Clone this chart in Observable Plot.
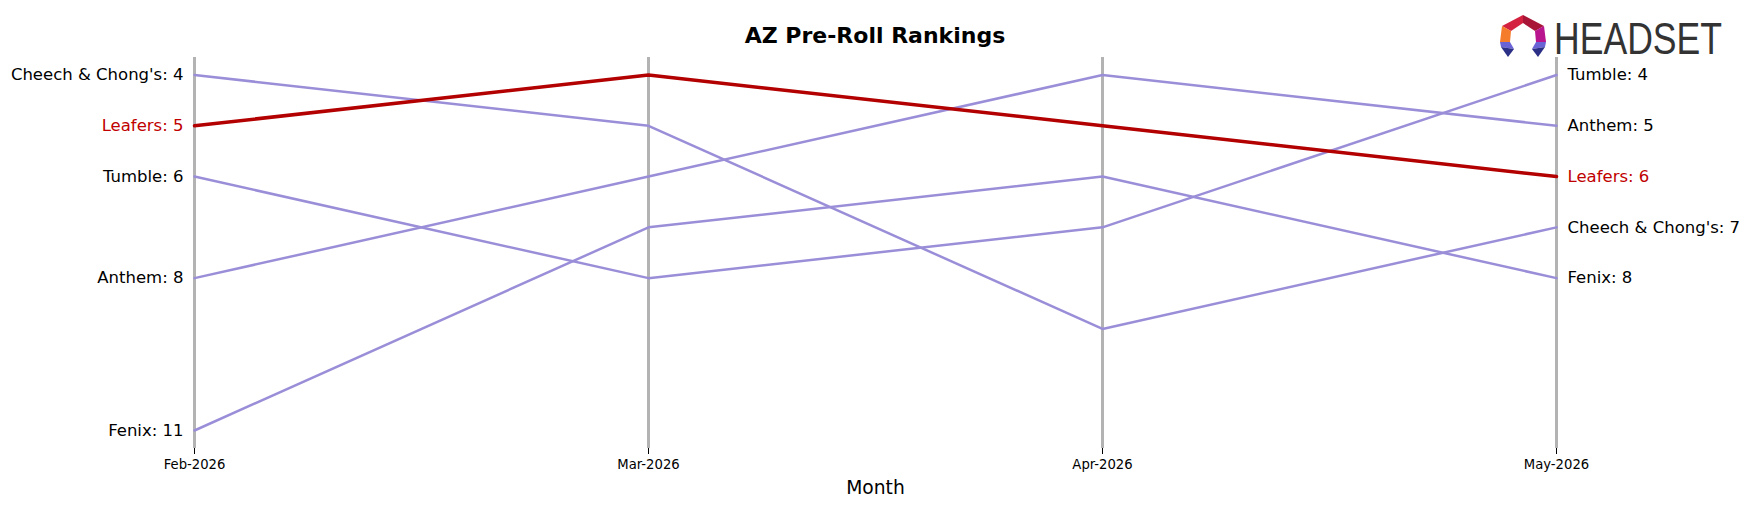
<!DOCTYPE html>
<html>
<head>
<meta charset="utf-8">
<script src="https://cdn.jsdelivr.net/npm/d3@7"></script>
<script src="https://cdn.jsdelivr.net/npm/@observablehq/plot@0.6"></script>
<style>
  body { margin: 0; background: #fff; }
  #wrap { position: relative; width: 1750px; height: 507px; font-family: "DejaVu Sans", sans-serif; overflow: hidden; }
  #title { position: absolute; left: 0; width: 1750px; top: 23px; text-align: center; font-weight: bold; font-size: 22px; line-height: 26px; color: #000; }
  #logo { position: absolute; left: 1495px; top: 8px; }
  #brandname { position: absolute; left: 1554px; top: 14px; font-family: "Liberation Sans Narrow", "Liberation Sans", sans-serif; font-size: 44px; line-height: 50px; color: #333; white-space: nowrap; transform-origin: 0 0; }
  #chart { position: absolute; left: 0; top: 0; }
</style>
</head>
<body>
<div id="wrap">
  <div id="chart"></div>
  <div id="title">AZ Pre-Roll Rankings</div>
  <svg id="logo" width="56" height="56" viewBox="1495 8 56 56">
    <polygon points="1502,26 1523,15 1523,23 1511,31" fill="#d3213f"/>
    <polygon points="1523,15 1544,26 1535,31 1523,23" fill="#a81537"/>
    <polygon points="1502,26 1511,31 1510,42 1500,42" fill="#f57c2b"/>
    <polygon points="1544,26 1546,42 1536,42 1535,31" fill="#b8158f"/>
    <polygon points="1500,42 1510,42 1514,49 1501,47" fill="#6a63d6"/>
    <polygon points="1501,47 1514,49 1508,57" fill="#2b2f86"/>
    <polygon points="1536,42 1546,42 1545,47 1532,49" fill="#6a63d6"/>
    <polygon points="1532,49 1545,47 1538,57" fill="#2b2f86"/>
  </svg>
  <div id="brandname">HEADSET</div>
</div>
<script>
const months = ["Feb-2026", "Mar-2026", "Apr-2026", "May-2026"];
const brands = ["Cheech & Chong's", "Tumble", "Anthem", "Fenix", "Leafers"];
const ranksCheech = [4, 5, 9, 7];
const ranksTumble = [6, 8, 7, 4];
const ranksAnthem = [8, 6, 4, 5];
const ranksFenix = [11, 7, 6, 8];
const ranksLeafers = [5, 4, 5, 6];
const highlight = "Leafers";

const rankLists = [ranksCheech, ranksTumble, ranksAnthem, ranksFenix, ranksLeafers];
const rows = [];
brands.forEach((b, i) => months.forEach((m, j) => rows.push({brand: b, month: m, rank: rankLists[i][j]})));

const purple = "#9b8ed8";
const red = "#b30000";
const others = rows.filter(d => d.brand !== highlight);
const hl = rows.filter(d => d.brand === highlight);
const first = rows.filter(d => d.month === months[0]);
const last = rows.filter(d => d.month === months[months.length - 1]);

const chart = Plot.plot({
  width: 1750,
  height: 507,
  marginTop: 57,
  marginBottom: 59,
  marginLeft: 194,
  marginRight: 194,
  style: {fontFamily: "DejaVu Sans, sans-serif", background: "#fff", overflow: "visible"},
  x: {type: "point", domain: months, range: [194, 1556], padding: 0, label: null},
  y: {domain: [4, 11], range: [74.5, 430], axis: null},
  marks: [
    Plot.ruleX(months, {x: d => d, stroke: "#b3b3b3", strokeWidth: 3}),
    Plot.axisX({ticks: months, tickSize: 6, tickPadding: 5, fontSize: 13.2, stroke: "#000", fill: "#000", label: null}),
    Plot.line(others, {x: "month", y: "rank", z: "brand", stroke: purple, strokeWidth: 2.5}),
    Plot.line(hl, {x: "month", y: "rank", stroke: red, strokeWidth: 3.5}),
    Plot.text(first, {x: "month", y: "rank", text: d => `${d.brand}: ${d.rank}`, textAnchor: "end", dx: -11, fontSize: 16.5,
      fill: d => d.brand === highlight ? "#c00000" : "#000"}),
    Plot.text(last, {x: "month", y: "rank", text: d => `${d.brand}: ${d.rank}`, textAnchor: "start", dx: 11, fontSize: 16.5,
      fill: d => d.brand === highlight ? "#c00000" : "#000"}),
    Plot.text(["Month"], {frameAnchor: "bottom", dy: 40, text: d => d, fontSize: 18.7, fill: "#000", lineAnchor: "middle"})
  ]
});
document.getElementById("chart").appendChild(chart);

const bn = document.getElementById("brandname");
const w = bn.getBoundingClientRect().width;
if (w > 0) bn.style.transform = `scaleX(${168 / w})`;
</script>
</body>
</html>
